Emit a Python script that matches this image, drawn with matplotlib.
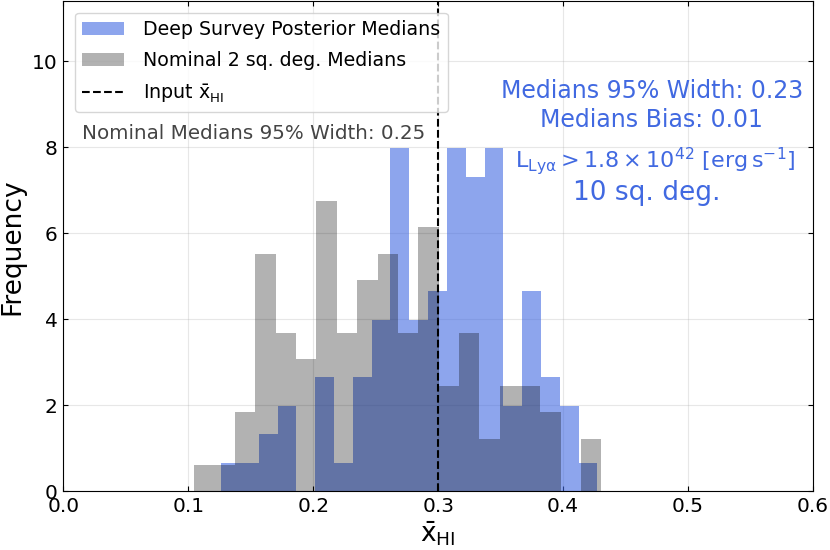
import numpy as np
import matplotlib
matplotlib.use("Agg")
import matplotlib.pyplot as plt

# ---- data (counts per bin, 20 bins each, 100 medians per survey) ----
deep_range = (0.1264, 0.4274)
deep_counts = [1, 1, 2, 3, 0, 4, 1, 4, 6, 12, 6, 7, 12, 11, 12, 3, 7, 4, 3, 1]
nominal_range = (0.1048, 0.4307)
nominal_counts = [1, 1, 3, 9, 6, 5, 11, 6, 8, 9, 6, 10, 4, 6, 2, 4, 4, 3, 0, 2]
input_xhi = 0.3
xticks = [0.0, 0.1, 0.2, 0.3, 0.4, 0.5, 0.6]
yticks = [0, 2, 4, 6, 8, 10]

deep_label = "Deep Survey Posterior Medians"
nominal_label = "Nominal 2 sq. deg. Medians"
input_label = r"Input $\bar{\rm x}_{\rm HI}$"
deep_width_text = "Medians 95% Width: 0.23"
deep_bias_text = "Medians Bias: 0.01"
lum_text = r"$\rm L_{Ly\alpha} > 1.8 \times 10^{42}\ [erg\,s^{-1}]$"
area_text = "10 sq. deg."
nominal_width_text = "Nominal Medians 95% Width: 0.25"

fig = plt.figure(figsize=(8.3, 5.5), dpi=100)
ax = fig.add_axes([0.0763, 0.1065, 0.9032, 0.8915])

deep_edges = np.linspace(deep_range[0], deep_range[1], len(deep_counts) + 1)
nom_edges = np.linspace(nominal_range[0], nominal_range[1], len(nominal_counts) + 1)
deep_centers = 0.5 * (deep_edges[:-1] + deep_edges[1:])
nom_centers = 0.5 * (nom_edges[:-1] + nom_edges[1:])

ax.hist(deep_centers, bins=deep_edges, weights=deep_counts, density=True,
        color="royalblue", alpha=0.6, label=deep_label)
ax.hist(nom_centers, bins=nom_edges, weights=nominal_counts, density=True,
        color="k", alpha=0.3, label=nominal_label)
ax.axvline(input_xhi, color="k", ls="--", lw=1.5, label=input_label)

ax.set_xlim(0.0, 0.6)
ax.set_ylim(0, 11.4)
ax.set_xticks(xticks)
ax.set_yticks(yticks)
ax.tick_params(direction="in", top=True, right=True, labelsize=14.5, pad=4)
ax.grid(alpha=0.3)
ax.set_axisbelow(True)

ax.set_xlabel(r"$\bar{\rm x}_{\rm HI}$", fontsize=19, labelpad=2)
ax.set_ylabel("Frequency", fontsize=19)
ax.yaxis.set_label_coords(-0.051, 0.5)

ax.legend(loc="upper left", fontsize=13.7, handlelength=2.2, handletextpad=1.0,
          labelspacing=0.62, borderaxespad=0.6)

blue = "royalblue"
ax.text(0.471, 9.32, deep_width_text, color=blue, fontsize=17, ha="center", va="center")
ax.text(0.471, 8.64, deep_bias_text, color=blue, fontsize=17, ha="center", va="center")
ax.text(0.4735, 7.69, lum_text, color=blue, fontsize=16, ha="center", va="center")
ax.text(0.467, 6.93, area_text, color=blue, fontsize=19, ha="center", va="center")
ax.text(0.015, 8.32, nominal_width_text, color="#444444", fontsize=14.3, ha="left", va="center")

fig.savefig("out.png", dpi=100)
